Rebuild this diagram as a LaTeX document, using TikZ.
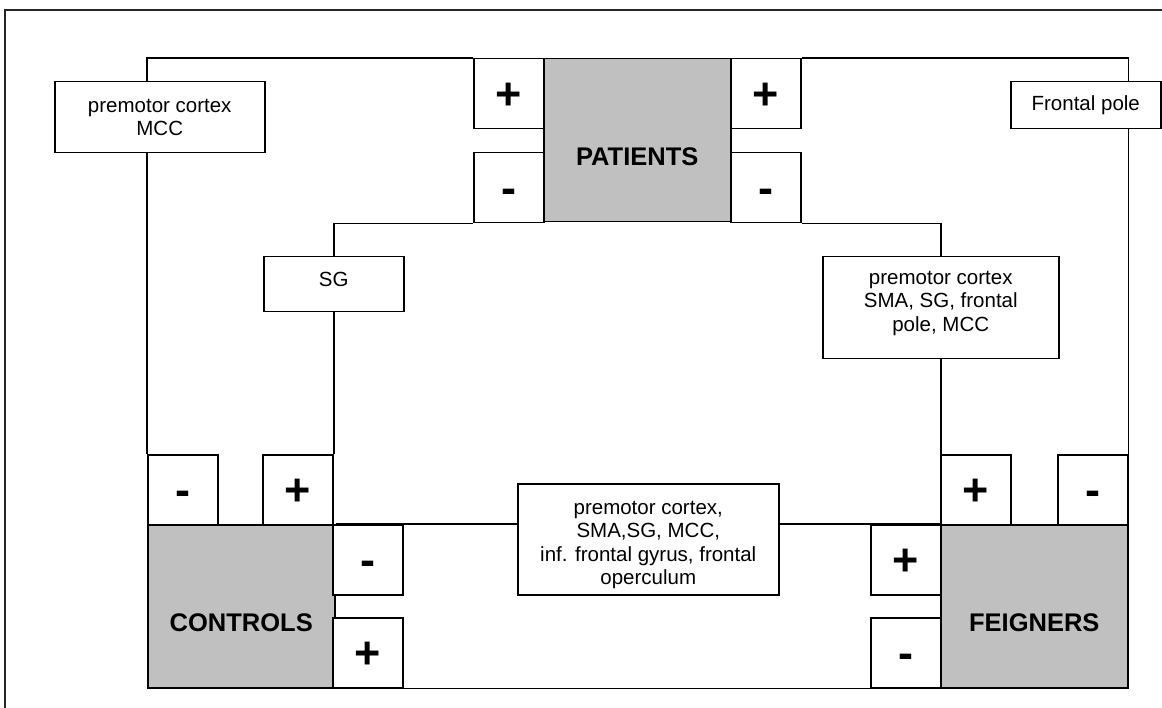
\documentclass[tikz,border=0pt]{standalone}
\usepackage{fontspec}
\setmainfont{Liberation Sans}
\definecolor{groupgray}{HTML}{C0C0C0}

\begin{document}
\begin{tikzpicture}[x=1pt,y=-1pt,line width=1.5pt,
		box/.style={draw,fill=white,inner sep=0pt,anchor=north west},
		group/.style={box,fill=groupgray,minimum width=187pt,minimum height=163pt,font=\fontsize{25.5}{30}\selectfont\bfseries,text height=50pt,text depth=0pt},
		sign/.style={box,minimum width=70pt,minimum height=70pt,font=\fontsize{45}{50}\selectfont\bfseries,text height=32pt,text depth=0pt},
		region/.style={box,align=center,font=\fontsize{20.5}{23.5}\selectfont}]
		\useasboundingbox (0,0) rectangle (1162,708);
		\draw[line width=2.4pt,black!85] (5,708) -- (5,10) -- (1162,10);
		% the three groups
		\node[group] (patients) at (543,58) {PATIENTS};
		\node[group] (controls) at (147,524) {CONTROLS};
		\node[group] (feigners) at (940,524) {FEIGNERS};
		% signs
		\node[sign] (ptl) at (473,58) {+};
		\node[sign] (pbl) at (473,152) {-};
		\node[sign] (ptr) at (730,58) {+};
		\node[sign] (pbr) at (730,152) {-};
		\node[sign] (cl) at (147,454) {-};
		\node[sign] (cr) at (262,454) {+};
		\node[sign] (cu) at (332,524) {-};
		\node[sign] (cd) at (332,617) {+};
		\node[sign] (fl) at (940,454) {+};
		\node[sign] (fr) at (1057,454) {-};
		\node[sign] (fu) at (870,524) {+};
		\node[sign] (fd) at (870,617) {-};
		% regions
		\node[region,minimum width=210pt,minimum height=71pt] (mcc) at (54,81) {premotor cortex\\MCC};
		\node[region,minimum width=150pt,minimum height=47pt] (fpole) at (1010,81) {Frontal pole};
		\node[region,minimum width=140pt,minimum height=55pt,text depth=10pt] (sg) at (263,256) {SG};
		\node[region,minimum width=236pt,minimum height=102pt,text depth=13pt] (pfsm) at (822,256) {premotor cortex\\SMA, SG, frontal\\pole, MCC};
		\node[region,minimum width=261pt,minimum height=111pt,text height=95pt] (shared) at (517,483) {premotor cortex,\\SMA,SG, MCC,\\inf. frontal gyrus, frontal\\operculum};
		% links
		\draw (ptl.north west) -| (mcc.north -| cl.west);
		\draw (mcc.south -| cl.west) -- (cl.north west);
		\draw (ptr.north east) -| (fpole.north -| fr.east);
		\draw (fpole.south -| fr.east) -- (fr.north east);
		\draw (pbl.south west) -| (sg.north);
		\draw (sg.south) -- (sg.south |- cr.north);
		\draw (pbr.south east) -| (pfsm.north);
		\draw (pfsm.south) -- (pfsm.south |- fl.north);
		\draw (controls.north east) -- (controls.north east -| shared.west);
		\draw (shared.east |- feigners.north west) -- (feigners.north west);
		\draw (cd.south east) -- (fd.south west);
	\end{tikzpicture}
\end{document}
